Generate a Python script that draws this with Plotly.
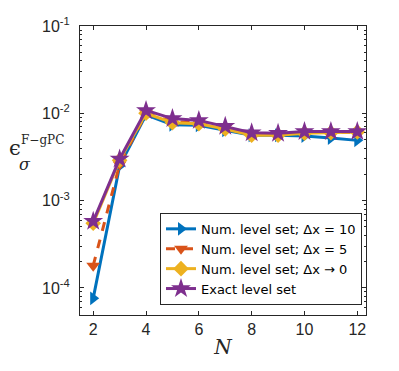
import numpy as np
import plotly.graph_objects as go

N = [2, 3, 4, 5, 6, 7, 8, 9, 10, 11, 12]

err_dx10 = [7.6e-5, 2.5e-3, 9.6e-3, 7.4e-3, 7.3e-3, 6.4e-3, 5.6e-3, 5.6e-3, 5.5e-3, 5.2e-3, 4.9e-3]
err_dx5 = [1.8e-4, 2.6e-3, 1.0e-2, 8.0e-3, 7.8e-3, 6.8e-3, 5.8e-3, 5.8e-3, 6.0e-3, 6.0e-3, 6.1e-3]
err_dx0 = [5.5e-4, 2.9e-3, 1.0e-2, 7.8e-3, 7.6e-3, 6.6e-3, 5.6e-3, 5.6e-3, 5.9e-3, 6.0e-3, 6.1e-3]
err_exact = [5.8e-4, 3.0e-3, 1.08e-2, 8.7e-3, 8.3e-3, 7.1e-3, 6.0e-3, 5.9e-3, 6.2e-3, 6.2e-3, 6.2e-3]

series_names = ['Num. level set; \u0394x = 10', 'Num. level set; \u0394x = 5',
                'Num. level set; \u0394x \u2192 0', 'Exact level set']

y_tickvals = [1e-4, 1e-3, 1e-2, 1e-1]
y_ticktext = ['10<sup>-4</sup>', '10<sup>-3</sup>', '10<sup>-2</sup>', '10<sup>-1</sup>']

colors = ['#0072BD', '#D95319', '#EDB120', '#7E2F8E']
symbols = ['triangle-right', 'triangle-down', 'diamond', 'star']
dashes = ['solid', 'dash', 'solid', 'solid']

fig = go.Figure()
for ys, name, c, s, d in zip([err_dx10, err_dx5, err_dx0, err_exact], series_names, colors, symbols, dashes):
    fig.add_trace(go.Scatter(
        x=N, y=ys, name=name, mode='lines+markers',
        line=dict(color=c, width=3, dash=d),
        marker=dict(symbol=s, size=15 if s == 'star' else 12, color=c, line=dict(width=0)),
        cliponaxis=False,
    ))

minor_y = [m * 10.0 ** e for e in range(-5, -1) for m in range(2, 10)]

axis_font = dict(family='Liberation Sans, Arial, sans-serif', size=16, color='#262626')

# page body adds an 8px offset, so the figure is a bit smaller than the window
fig.update_layout(
    width=391, height=363,
    margin=dict(l=72, r=33, t=18, b=56),
    paper_bgcolor='white', plot_bgcolor='white',
    showlegend=True,
    legend=dict(
        x=0.986, y=0.035, xanchor='right', yanchor='bottom',
        bgcolor='white', bordercolor='#262626', borderwidth=1,
        font=dict(family='DejaVu Sans, sans-serif', size=13, color='black'),
        tracegroupgap=0,
    ),
)

fig.update_xaxes(
    range=[1.5, 12.33], tickvals=[2, 4, 6, 8, 10, 12],
    ticks='inside', ticklen=4, tickcolor='#262626',
    showline=True, linecolor='#262626', linewidth=1, mirror='ticks',
    showgrid=False, zeroline=False, tickfont=axis_font, automargin=False,
    title=dict(text='<i>N</i>', font=dict(family='DejaVu Serif, serif', size=20, color='#262626'), standoff=2),
)

fig.update_yaxes(
    type='log', range=[np.log10(4.9e-5), -1],
    tickvals=y_tickvals, ticktext=y_ticktext,
    ticks='inside', ticklen=4, tickcolor='#262626', ticklabelstandoff=6,
    minor=dict(tickvals=minor_y, ticks='inside', ticklen=2, tickcolor='#262626'),
    showline=True, linecolor='#262626', linewidth=1, mirror='ticks',
    showgrid=False, zeroline=False, tickfont=axis_font, automargin=False,
)

# y-axis label: epsilon with stacked sub/superscripts
lab_font = 'DejaVu Serif, serif'
fig.add_annotation(xref='paper', yref='paper', x=-0.229, y=0.578, text='\u03f5',
                   xanchor='center', yanchor='middle',
                   showarrow=False, font=dict(family=lab_font, size=21, color='#262626'))
fig.add_annotation(xref='paper', yref='paper', x=-0.212, y=0.606, text='F\u2212gPC',
                   xanchor='left', yanchor='middle',
                   showarrow=False, font=dict(family=lab_font, size=12, color='#262626'))
fig.add_annotation(xref='paper', yref='paper', x=-0.222, y=0.52, text='<i>\u03c3</i>',
                   xanchor='left', yanchor='middle',
                   showarrow=False, font=dict(family=lab_font, size=16, color='#262626'))

fig.write_html('out.html')
